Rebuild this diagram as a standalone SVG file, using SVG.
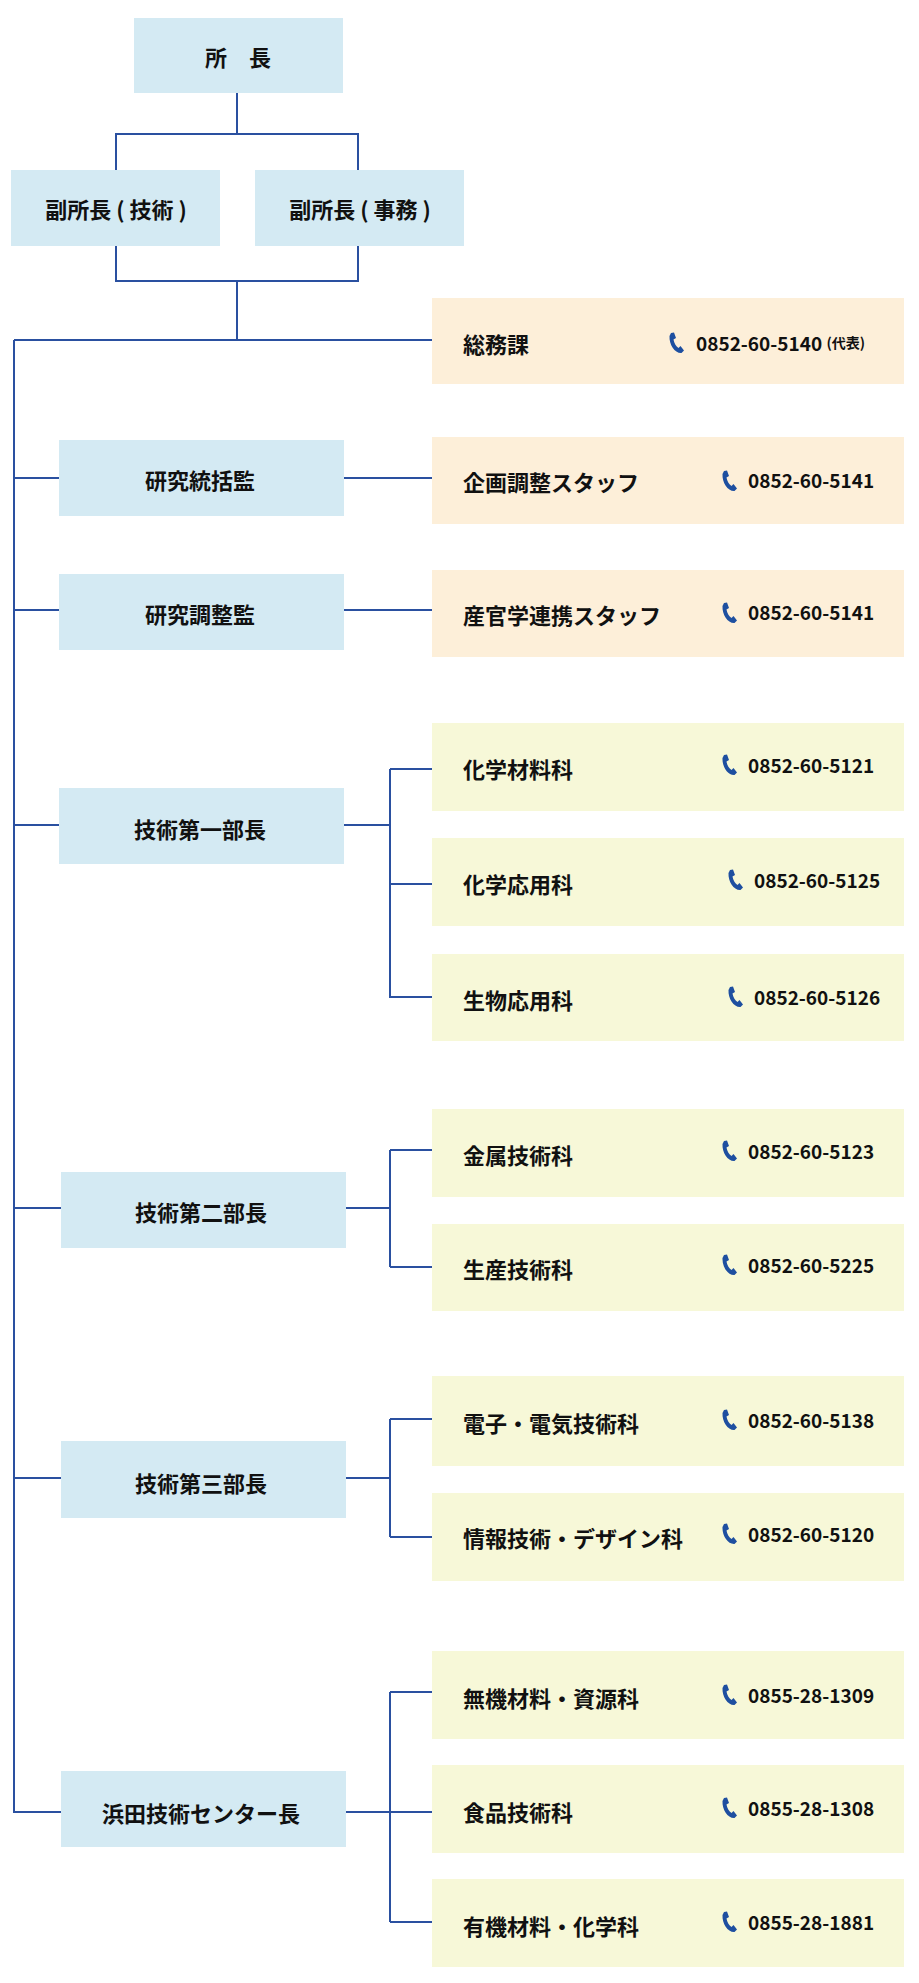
<svg xmlns="http://www.w3.org/2000/svg" width="919" height="1983" viewBox="0 0 919 1983">
<style>
.b{fill:#d4eaf3}.o{fill:#fdefd9}.y{fill:#f7f8d8}
text{font-family:"Noto Sans CJK JP","Noto Sans",sans-serif;font-weight:bold;fill:#111;dominant-baseline:central}
.t{font-size:22px;text-anchor:middle}
.l{font-size:22px}
.n{font-size:19px;font-family:"Noto Sans CJK JP","Noto Sans",sans-serif}
.c path{fill:none;stroke:#2a50a0;stroke-width:2}
</style>
<defs>
<symbol id="ph" viewBox="0 0 16 22"><path d="M3 1 L6 0.5 L8 6 L5.5 7.5 C6 11 8 14.5 10.5 16 L12.5 14 L16 18.5 L13.5 21 C7 21.5 1 13 1.5 4 Z" fill="#1e4fa0"/></symbol>
</defs>
<g class="c" id="connectors">
<path d="M237 93V134M116 170V134H358V170M116 246V281H358V246M237 281V340M14 340H432M14 340V1812H61"/>
<path d="M14 478H59M342 478H432M14 610H59M342 610H432"/>
<path d="M14 825H59M344 825H390M390 769H432M390 769V997H432M390 884H432"/>
<path d="M14 1208H61M345 1208H390M390 1150V1267M390 1150H432M390 1267H432"/>
<path d="M14 1478H61M345 1478H390M390 1419V1537M390 1419H432M390 1537H432"/>
<path d="M345 1812H432M390 1692V1922M390 1692H432M390 1922H432"/>
</g>
<g id="n1"><rect class="b" x="134" y="18" width="209" height="75"/><text class="t" x="238" y="56">所　長</text></g>
<g id="n2"><rect class="b" x="11" y="170" width="209" height="76"/><text class="t" x="116" y="208">副所長 ( 技術 )</text></g>
<g id="n3"><rect class="b" x="255" y="170" width="209" height="76"/><text class="t" x="360" y="208">副所長 ( 事務 )</text></g>
<g id="n4"><rect class="o" x="432" y="298" width="472" height="86"/><text class="l" x="463" y="343">総務課</text><use href="#ph" x="668" y="332" width="16" height="22"/><text class="n" x="696" y="342">0852-60-5140 <tspan font-size="14">(代表)</tspan></text></g>
<g id="n5"><rect class="b" x="59" y="440" width="285" height="76"/><text class="t" x="200" y="479">研究統括監</text></g>
<g id="n6"><rect class="o" x="432" y="437" width="472" height="87"/><text class="l" x="463" y="481">企画調整スタッフ</text><use href="#ph" x="721" y="470" width="16" height="22"/><text class="n" x="748" y="479">0852-60-5141</text></g>
<g id="n7"><rect class="b" x="59" y="574" width="285" height="76"/><text class="t" x="200" y="613">研究調整監</text></g>
<g id="n8"><rect class="o" x="432" y="570" width="472" height="87"/><text class="l" x="463" y="614">産官学連携スタッフ</text><use href="#ph" x="721" y="602" width="16" height="22"/><text class="n" x="748" y="611">0852-60-5141</text></g>
<g id="n9"><rect class="b" x="59" y="788" width="285" height="76"/><text class="t" x="200" y="828">技術第一部長</text></g>
<g id="n10"><rect class="y" x="432" y="723" width="472" height="88"/><text class="l" x="463" y="768">化学材料科</text><use href="#ph" x="721" y="754" width="16" height="22"/><text class="n" x="748" y="764">0852-60-5121</text></g>
<g id="n11"><rect class="y" x="432" y="838" width="472" height="88"/><text class="l" x="463" y="883">化学応用科</text><use href="#ph" x="727" y="869" width="16" height="22"/><text class="n" x="754" y="879">0852-60-5125</text></g>
<g id="n12"><rect class="y" x="432" y="954" width="472" height="87"/><text class="l" x="463" y="999">生物応用科</text><use href="#ph" x="727" y="986" width="16" height="22"/><text class="n" x="754" y="996">0852-60-5126</text></g>
<g id="n13"><rect class="b" x="61" y="1172" width="285" height="76"/><text class="t" x="201" y="1211">技術第二部長</text></g>
<g id="n14"><rect class="y" x="432" y="1109" width="472" height="88"/><text class="l" x="463" y="1154">金属技術科</text><use href="#ph" x="721" y="1140" width="16" height="22"/><text class="n" x="748" y="1150">0852-60-5123</text></g>
<g id="n15"><rect class="y" x="432" y="1224" width="472" height="87"/><text class="l" x="463" y="1268">生産技術科</text><use href="#ph" x="721" y="1254" width="16" height="22"/><text class="n" x="748" y="1264">0852-60-5225</text></g>
<g id="n16"><rect class="b" x="61" y="1441" width="285" height="77"/><text class="t" x="201" y="1482">技術第三部長</text></g>
<g id="n17"><rect class="y" x="432" y="1376" width="472" height="90"/><text class="l" x="463" y="1422">電子・電気技術科</text><use href="#ph" x="721" y="1409" width="16" height="22"/><text class="n" x="748" y="1419">0852-60-5138</text></g>
<g id="n18"><rect class="y" x="432" y="1493" width="472" height="88"/><text class="l" x="463" y="1537">情報技術・デザイン科</text><use href="#ph" x="721" y="1523" width="16" height="22"/><text class="n" x="748" y="1533">0852-60-5120</text></g>
<g id="n19"><rect class="b" x="61" y="1771" width="285" height="76"/><text class="t" x="201" y="1812">浜田技術センター長</text></g>
<g id="n20"><rect class="y" x="432" y="1651" width="472" height="88"/><text class="l" x="463" y="1697">無機材料・資源科</text><use href="#ph" x="721" y="1684" width="16" height="22"/><text class="n" x="748" y="1694">0855-28-1309</text></g>
<g id="n21"><rect class="y" x="432" y="1765" width="472" height="88"/><text class="l" x="463" y="1811">食品技術科</text><use href="#ph" x="721" y="1797" width="16" height="22"/><text class="n" x="748" y="1807">0855-28-1308</text></g>
<g id="n22"><rect class="y" x="432" y="1879" width="472" height="88"/><text class="l" x="463" y="1925">有機材料・化学科</text><use href="#ph" x="721" y="1911" width="16" height="22"/><text class="n" x="748" y="1921">0855-28-1881</text></g>
</svg>
